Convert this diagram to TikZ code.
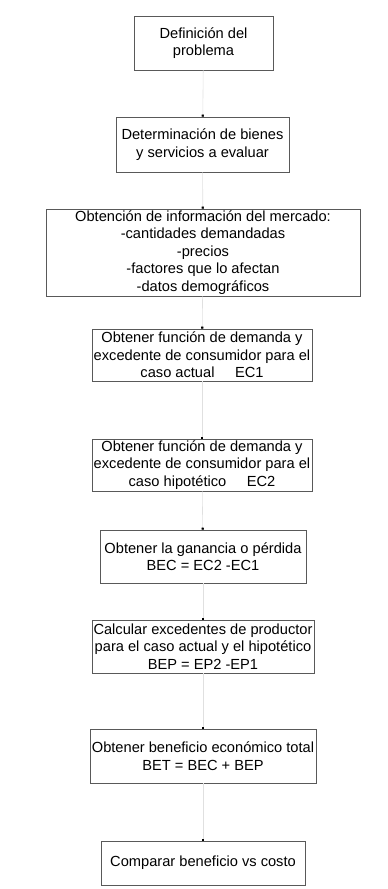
\documentclass[tikz,border=0pt]{standalone}
\usepackage{fontspec}
\setmainfont{Liberation Sans}
\usetikzlibrary{arrows.meta}
\tikzstyle{paso}=[draw=black!65,line width=0.6pt,align=center,inner sep=0pt,font=\fontsize{12.5}{15}\selectfont]
\tikzstyle{flujo}=[-{Square[length=1.8pt,width=1.8pt,black]},draw=black!12,line width=0.5pt]
\newcommand{\drawpaso}[6]{
% nombre, x, y, ancho, alto, texto
\node[paso,minimum width=#4*0.03cm,minimum height=#5*0.03cm] (#1) at (#2,#3) {#6};
}

\begin{document}
\begin{tikzpicture}[x=0.03cm,y=-0.03cm]
  \useasboundingbox (0,0) rectangle (387,889);
  \drawpaso{p1}{203.5}{43}{139}{54}{Definición del\\problema}
  \drawpaso{p2}{202.5}{144.5}{173}{55}{Determinación de bienes\\y servicios a evaluar}
  \drawpaso{p3}{203}{252.5}{314}{87}{Obtención de información del mercado:\\-cantidades demandadas\\-precios\\-factores que lo afectan\\-datos demográficos}
  \drawpaso{p4}{202}{355}{220}{52}{Obtener función de demanda y\\excedente de consumidor para el\\caso actual\hspace{1.4em}EC1}
  \drawpaso{p5}{202}{465}{220}{52}{Obtener función de demanda y\\excedente de consumidor para el\\caso hipotético\hspace{1.4em}EC2}
  \drawpaso{p6}{203}{556.5}{206}{53}{Obtener la ganancia o pérdida\\BEC = EC2 -EC1}
  \drawpaso{p7}{203}{646.5}{222}{53}{Calcular excedentes de productor\\para el caso actual y el hipotético\\BEP = EP2 -EP1}
  \drawpaso{p8}{203}{756}{226}{54}{Obtener beneficio económico total\\BET = BEC + BEP}
  \drawpaso{p9}{203}{863}{204}{44}{Comparar beneficio vs costo}
  % conectores
  \foreach \a/\b in {p1/p2,p2/p3,p3/p4,p4/p5,p5/p6,p6/p7,p7/p8,p8/p9}
    \draw[flujo] (\a) -- (\b);
\end{tikzpicture}
\end{document}
